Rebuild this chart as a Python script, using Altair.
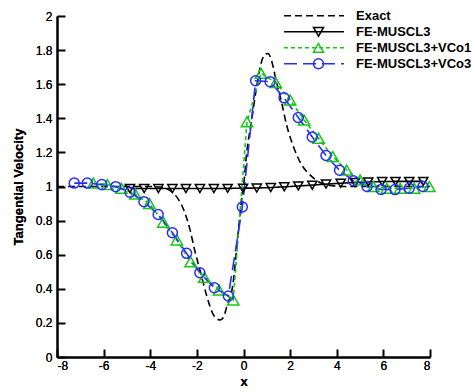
import altair as alt
import pandas as pd

# ---------------- data ----------------
series = ["Exact", "FE-MUSCL3", "FE-MUSCL3+VCo1", "FE-MUSCL3+VCo3"]
colors = ["#000000", "#000000", "#14c814", "#2b2bff"]
dashes = [[7, 4], [1, 0], [4, 3], [13, 6]]
shapes = ["M0,0", "triangle-down", "triangle-up", "circle"]
marker_sizes = [1, 85, 130, 100]

x_ticks = [-8, -6, -4, -2, 0, 2, 4, 6, 8]
y_ticks = [0, 0.2, 0.4, 0.6, 0.8, 1, 1.2, 1.4, 1.6, 1.8, 2]

exact_x = [-8, -4.0, -3.6, -3.2, -2.9, -2.65, -2.45, -2.3, -2.1, -1.83, -1.58,
           -1.3, -1.15, -1.0, -0.85, -0.72, -0.45, -0.25, -0.1, 0.0, 0.14,
           0.35, 0.57, 0.75, 0.92, 1.05, 1.2, 1.4, 1.64, 1.85, 2.14, 2.46,
           2.9, 3.3, 3.8, 4.5, 8]
exact_y = [1.0, 1.0, 0.997, 0.98, 0.945, 0.89, 0.82, 0.75, 0.63, 0.49, 0.36,
           0.25, 0.225, 0.217, 0.235, 0.295, 0.43, 0.70, 0.90, 1.0, 1.2,
           1.39, 1.59, 1.72, 1.775, 1.78, 1.74, 1.62, 1.49, 1.36, 1.235, 1.135,
           1.062, 1.022, 1.005, 1.0, 1.0]

m3_x = [-4.87, -4.26, -3.65, -3.05, -2.47, -1.87, -1.27, -0.68, -0.02, 0.57,
        1.17, 1.75, 2.35, 2.95, 3.54, 4.17, 4.78, 5.35, 5.95, 6.52, 7.11, 7.71]
m3_y = [0.988, 0.988, 0.988, 0.988, 0.988, 0.988, 0.988, 0.989, 0.99, 0.991,
        0.994, 0.998, 1.003, 1.008, 1.014, 1.019, 1.024, 1.027, 1.029, 1.03,
        1.03, 1.03]

vco1_x = [-6.44, -5.84, -5.24, -4.64, -4.04, -3.44, -2.86, -2.27, -1.68, -1.05,
          -0.44, 0.15, 0.75, 1.38, 2.0, 2.6, 3.22, 3.83, 4.42, 5.0, 5.57,
          6.15, 6.72, 7.32, 7.97]
vco1_y = [1.02, 1.012, 0.99, 0.955, 0.90, 0.79, 0.686, 0.559, 0.467, 0.393,
          0.334, 1.38, 1.664, 1.61, 1.507, 1.39, 1.283, 1.175, 1.097, 1.038,
          1.0, 0.99, 0.99, 0.99, 1.0]

vco3_x = [-7.26, -6.70, -6.08, -5.48, -4.87, -4.27, -3.66, -3.05, -2.44, -1.87,
          -1.25, -0.65, -0.05, 0.52, 1.14, 1.74, 2.35, 2.95, 3.54, 4.12, 4.71,
          5.3, 5.9, 6.5, 7.11, 7.7]
vco3_y = [1.02, 1.02, 1.011, 0.999, 0.966, 0.911, 0.836, 0.729, 0.608, 0.494,
          0.406, 0.358, 0.88, 1.62, 1.615, 1.52, 1.405, 1.29, 1.182, 1.095,
          1.034, 1.0, 0.983, 0.982, 0.99, 1.0]

# ---------------- tables ----------------
def frame(name, xs, ys):
    return pd.DataFrame({"x": xs, "y": ys, "series": [name] * len(xs)})

exact_df = frame("Exact", exact_x, exact_y)
numeric = [("FE-MUSCL3", m3_x, m3_y),
           ("FE-MUSCL3+VCo1", vco1_x, vco1_y),
           ("FE-MUSCL3+VCo3", vco3_x, vco3_y)]
num_df = pd.concat([frame(*s) for s in numeric], ignore_index=True)
index_of = {s: i for i, s in enumerate(series)}
marker_domain = list(range(len(series)))

FONT = "Liberation Sans, Arial, Helvetica, sans-serif"
W, H = 373, 341

xscale = alt.Scale(domain=[-8, 8], nice=False, zero=False)
yscale = alt.Scale(domain=[0, 2], nice=False, zero=False)

x_main = alt.Axis(orient="bottom", values=x_ticks, labelExpr="'' + datum.value",
                  title="x", ticks=False, tickSize=0, domainWidth=2,
                  domainColor="black", labelFont=FONT, labelFontSize=12,
                  labelColor="black", labelPadding=3, titleFont=FONT,
                  titleFontSize=13, titleFontWeight="bold", titleColor="black",
                  titlePadding=4, grid=False)
y_main = alt.Axis(orient="left", values=y_ticks, format="~g",
                  title="Tangential Velocity", ticks=False, tickSize=0,
                  domainWidth=2, domainColor="black", labelFont=FONT,
                  labelFontSize=12, labelColor="black", labelPadding=5,
                  titleFont=FONT, titleFontSize=13, titleFontWeight="bold",
                  titleColor="black", titlePadding=10, grid=False)
x_ticks_ax = alt.Axis(orient="bottom", values=x_ticks, offset=-8, domain=False,
                      labels=False, ticks=True, tickSize=8, tickWidth=2,
                      tickColor="black", title=None, grid=False)
y_ticks_ax = alt.Axis(orient="left", values=y_ticks, offset=-8, domain=False,
                      labels=False, ticks=True, tickSize=8, tickWidth=2,
                      tickColor="black", title=None, grid=False)

line_legend = alt.Legend(orient="none", legendX=226, legendY=-8, title=None,
                         symbolType="stroke", symbolSize=3600,
                         symbolStrokeWidth=1.6, labelFont=FONT,
                         labelFontSize=13, labelFontWeight="bold",
                         labelColor="black", labelOffset=11, clipHeight=15.6,
                         padding=0, rowPadding=0)
mark_legend = alt.Legend(orient="none", legendX=255, legendY=-8, title=None,
                         symbolSize=100, symbolStrokeWidth=1.5,
                         labelExpr="''", labelFontSize=13, clipHeight=15.6,
                         padding=0, rowPadding=0)

color_enc = alt.Color("series:N", scale=alt.Scale(domain=series, range=colors),
                      legend=line_legend)
dash_enc = alt.StrokeDash("series:N", scale=alt.Scale(domain=series, range=dashes),
                          legend=line_legend)

exact_layer = alt.Chart(exact_df).mark_line(
    strokeWidth=1.6, interpolate="monotone", clip=True
).encode(
    x=alt.X("x:Q", scale=xscale, axis=x_main),
    y=alt.Y("y:Q", scale=yscale, axis=y_main),
    color=color_enc,
    strokeDash=dash_enc,
)

num_layer = alt.Chart(num_df).mark_line(strokeWidth=1.6, clip=True).encode(
    x=alt.X("x:Q", scale=xscale, axis=x_main),
    y=alt.Y("y:Q", scale=yscale, axis=y_main),
    color=color_enc,
    strokeDash=dash_enc,
    order=alt.Order("x:Q"),
)

# one marker layer per scheme (own marker size); series referenced by index
point_layers = []
for k, (name, xs, ys) in enumerate(numeric):
    i = index_of[name]
    df = pd.DataFrame({"x": xs, "y": ys, "mseries": [i] * len(xs)})
    point_layers.append(
        alt.Chart(df).mark_point(filled=False, strokeWidth=1.5, opacity=1,
                                 size=marker_sizes[i]).encode(
            x=alt.X("x:Q", scale=xscale, axis=x_ticks_ax if k == 0 else None),
            y=alt.Y("y:Q", scale=yscale, axis=y_ticks_ax if k == 0 else None),
            stroke=alt.Stroke("mseries:N",
                              scale=alt.Scale(domain=marker_domain, range=colors),
                              legend=mark_legend),
            shape=alt.Shape("mseries:N",
                            scale=alt.Scale(domain=marker_domain, range=shapes),
                            legend=mark_legend),
        )
    )

chart = alt.layer(exact_layer, num_layer, *point_layers).resolve_axis(
    x="independent", y="independent"
).properties(
    width=W, height=H, autosize="none",
    padding={"left": 57, "top": 16, "right": 43, "bottom": 35},
    background="white",
).configure_view(stroke=None)

chart.save("out.html", embed_options={"renderer": "svg", "actions": False})
